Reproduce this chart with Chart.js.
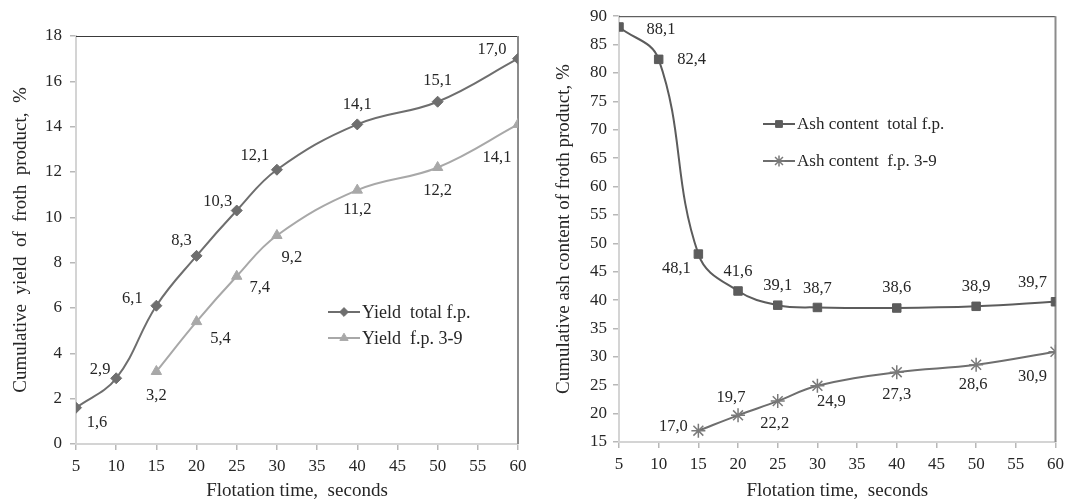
<!DOCTYPE html>
<html><head><meta charset="utf-8">
<script src="https://cdn.jsdelivr.net/npm/chart.js@4/dist/chart.umd.min.js"></script>
<style>
html,body{margin:0;padding:0;background:#fff;}
#wrap{position:relative;width:1070px;height:502px;overflow:hidden;}
.box{position:absolute;top:0;width:535px;height:502px;}
canvas{display:block;}
</style></head><body>
<div id="wrap">
<div class="box" style="left:0"><canvas id="c1" width="535" height="502"></canvas></div>
<div class="box" style="left:535px"><canvas id="c2" width="535" height="502"></canvas></div>
</div>
<script>
// ---- data ----
const timesTotal = [5, 10, 15, 20, 25, 30, 40, 50, 60];
const times39 = [15, 20, 25, 30, 40, 50, 60];
const yieldTotal = [1.6, 2.9, 6.1, 8.3, 10.3, 12.1, 14.1, 15.1, 17.0];
const yield39 = [3.2, 5.4, 7.4, 9.2, 11.2, 12.2, 14.1];
const ashTotal = [88.1, 82.4, 48.1, 41.6, 39.1, 38.7, 38.6, 38.9, 39.7];
const ash39 = [17.0, 19.7, 22.2, 24.9, 27.3, 28.6, 30.9];
const xTickRange = [5, 60, 5];
const yieldTickRange = [0, 18, 2];
const ashTickRange = [15, 90, 5];
const seriesNames = ['Yield  total f.p.', 'Yield  f.p. 3-9', 'Ash content  total f.p.', 'Ash content  f.p. 3-9'];
const xTitle = 'Flotation time,  seconds';
const yTitleYield = 'Cumulative  yield  of  froth  product,  %';
const yTitleAsh = 'Cumulative ash content of froth product, %';

// ---- label placement (style) ----
const offYieldTotal = [[21,15],[-16,-9],[-24,-7],[-15,-15],[-19,-9],[-22,-14],[0,-20],[0,-21],[-26,-9]];
const offYield39 = [[0,24],[24,17],[23,11],[15,22],[0,20],[0,23],[-21,33]];
const offAshTotal = [[42,3],[33,0],[-22,15],[0,-19],[0,-20],[0,-19],[0,-20],[0,-20],[-23,-19]];
const offAsh39 = [[-25,-4],[-7,-18],[-3,23],[14,16],[0,23],[-3,20],[-23,25]];

const FONT = '"Liberation Serif", "Times New Roman", serif';
const TXT = '#262626';

function pts(xs, ys){ return xs.map((x,i)=>({x:x, y:ys[i]})); }
function fmt(v){ return v.toFixed(1).replace('.', ','); }

const labelPlugin = {
  id: 'valLabels',
  afterDatasetsDraw(chart){
    const ctx = chart.ctx;
    ctx.save();
    ctx.font = '16.5px ' + FONT;
    ctx.fillStyle = TXT;
    ctx.textAlign = 'center';
    ctx.textBaseline = 'middle';
    chart.data.datasets.forEach((ds, di)=>{
      const meta = chart.getDatasetMeta(di);
      meta.data.forEach((el, i)=>{
        const o = ds.labelOffsets[i];
        ctx.fillText(fmt(ds.data[i].y), el.x + o[0], el.y + o[1]);
      });
    });
    ctx.restore();
  }
};

const framePlugin = {
  id: 'frame',
  beforeDatasetsDraw(chart){
    const a = chart.chartArea, ctx = chart.ctx;
    ctx.save();
    ctx.strokeStyle = '#3a3a3a'; ctx.lineWidth = 1;
    ctx.beginPath(); ctx.moveTo(a.left, a.top + 0.5); ctx.lineTo(a.right, a.top + 0.5); ctx.stroke();
    ctx.strokeStyle = '#8c8c8c'; ctx.lineWidth = 2;
    ctx.beginPath(); ctx.moveTo(a.right, a.top); ctx.lineTo(a.right, a.bottom); ctx.stroke();
    ctx.restore();
  }
};

function drawMarker(ctx, ds, x, y){
  const o = {pointStyle: ds.pointStyle, radius: ds.pointRadius, rotation: 0, borderWidth: ds.pointBorderWidth};
  ctx.fillStyle = ds.pointBackgroundColor; ctx.strokeStyle = ds.pointBorderColor; ctx.lineWidth = ds.pointBorderWidth;
  if (Chart.helpers && Chart.helpers.drawPoint) Chart.helpers.drawPoint(ctx, o, x, y);
}

const legendPlugin = {
  id: 'boxLegend',
  afterDraw(chart, args, opts){
    const ctx = chart.ctx;
    ctx.save();
    chart.data.datasets.forEach((ds, i)=>{
      const y = opts.y + i * opts.dy;
      ctx.strokeStyle = ds.borderColor; ctx.lineWidth = 2;
      ctx.beginPath(); ctx.moveTo(opts.x, y); ctx.lineTo(opts.x + 32, y); ctx.stroke();
      drawMarker(ctx, Object.assign({}, ds, {pointRadius: ds.pointRadius * 0.8}), opts.x + 16, y);
      ctx.font = opts.size + 'px ' + FONT; ctx.fillStyle = TXT; ctx.textAlign = 'left'; ctx.textBaseline = 'middle';
      ctx.fillText(ds.label, opts.x + 34, y + 1);
    });
    ctx.restore();
  }
};

function make(id, cfg){
  const tickFont = {family: FONT, size: 17};
  return new Chart(document.getElementById(id), {
    type: 'line',
    data: {datasets: cfg.datasets},
    options: {
      responsive: false, animation: false, devicePixelRatio: 1,
      layout: {padding: cfg.padding},
      plugins: {legend: {display: false}, tooltip: {enabled: false}, boxLegend: cfg.legend},
      elements: {line: {tension: 0.4, borderWidth: 2, fill: false}},
      scales: {
        x: {
          type: 'linear', min: xTickRange[0], max: xTickRange[1],
          ticks: {stepSize: xTickRange[2], font: tickFont, color: TXT, padding: 6, maxRotation: 0},
          grid: {drawOnChartArea: false, drawTicks: true, tickLength: 6, color: '#b8b8b8', lineWidth: 1.5},
          border: {display: true, color: '#d4d4d4', width: 2},
          title: {display: true, text: xTitle, font: {family: FONT, size: 19}, color: TXT, padding: {top: 0, bottom: 0}},
          afterFit: s => { s.height = cfg.xH; }
        },
        y: {
          min: cfg.yRange[0], max: cfg.yRange[1],
          ticks: {stepSize: cfg.yRange[2], font: tickFont, color: TXT, padding: cfg.yPad},
          grid: {drawOnChartArea: false, drawTicks: true, tickLength: 6, color: '#b8b8b8', lineWidth: 1.5},
          border: {display: true, color: '#d4d4d4', width: 2},
          title: {display: true, text: cfg.yTitle, font: {family: FONT, size: 19}, color: TXT, padding: {top: cfg.yTitlePad, bottom: 0}},
          afterFit: s => { s.width = cfg.yW; }
        }
      }
    },
    plugins: [framePlugin, labelPlugin, legendPlugin]
  });
}

make('c1', {
  padding: {left: 0, right: 17, top: 36, bottom: 0},
  xH: 58, yW: 76, yPad: 8, yTitlePad: 10,
  yRange: yieldTickRange, yTitle: yTitleYield,
  legend: {x: 328, y: 312, dy: 26, size: 18},
  datasets: [
    {label: seriesNames[0], data: pts(timesTotal, yieldTotal), borderColor: '#6e6e6e', pointStyle: 'rectRot', pointRadius: 5.5,
     pointBackgroundColor: '#6e6e6e', pointBorderColor: '#6e6e6e', pointBorderWidth: 1, labelOffsets: offYieldTotal},
    {label: seriesNames[1], data: pts(times39, yield39), borderColor: '#a8a8a8', pointStyle: 'triangle', pointRadius: 6,
     pointBackgroundColor: '#a8a8a8', pointBorderColor: '#a8a8a8', pointBorderWidth: 1, labelOffsets: offYield39}
  ]
});

make('c2', {
  padding: {left: 0, right: 12, top: 16, bottom: 0},
  xH: 60, yW: 84, yPad: 6, yTitlePad: 18,
  yRange: ashTickRange, yTitle: yTitleAsh,
  legend: {x: 228, y: 124, dy: 37, size: 17},
  datasets: [
    {label: seriesNames[2], data: pts(timesTotal, ashTotal), borderColor: '#5c5c5c', pointStyle: 'rect', pointRadius: 6,
     pointBackgroundColor: '#5c5c5c', pointBorderColor: '#5c5c5c', pointBorderWidth: 1, labelOffsets: offAshTotal},
    {label: seriesNames[3], data: pts(times39, ash39), borderColor: '#6e6e6e', pointStyle: 'star', pointRadius: 7,
     pointBackgroundColor: 'rgba(0,0,0,0)', pointBorderColor: '#7a7a7a', pointBorderWidth: 1.5, labelOffsets: offAsh39}
  ]
});
</script>
</body></html>
